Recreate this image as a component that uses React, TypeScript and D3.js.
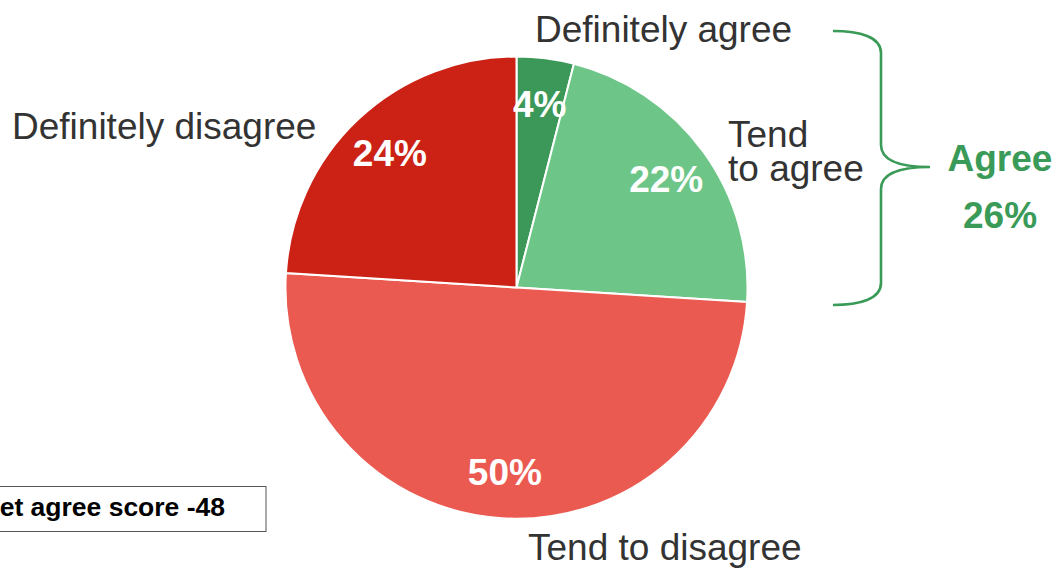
import React from "react";
import * as d3 from "d3";

const categories = ["Definitely agree", "Tend to agree", "Tend to disagree", "Definitely disagree"];
const values = [4, 22, 50, 24];
const colors = ["#3b9858", "#6dc688", "#eb5a50", "#cb2215"];
const agreeTotal = 26;
const netScore = -48;

const W = 1058, H = 568;
const cx = 516.5, cy = 287.5, R = 231;

export default function App() {
  const pie = d3.pie<number>().sort(null).value((d) => d)(values);
  const arc = d3.arc<d3.PieArcDatum<number>>().innerRadius(0).outerRadius(R);
  const labelArc = d3.arc<d3.PieArcDatum<number>>().innerRadius(185).outerRadius(185);
  const textFont = "'Liberation Sans', Arial, sans-serif";
  const green = "#3a9a58";
  const bx = 881, top = 31, bot = 305, mid = 167, tipX = 930, c = 22;
  const brace = `M833,${top} C860,${top} ${bx},${top + 6} ${bx},${top + c} L${bx},${mid - c} C${bx},${mid - 6} ${bx + 20},${mid} ${tipX},${mid} C${bx + 20},${mid} ${bx},${mid + 6} ${bx},${mid + c} L${bx},${bot - c} C${bx},${bot - 6} 860,${bot} 833,${bot}`;
  return (
    <svg width={W} height={H} style={{ position: "absolute", left: 0, top: 0, fontFamily: textFont }}>
      <rect width={W} height={H} fill="#fff" />
      <g transform={`translate(${cx},${cy})`}>
        {pie.map((p, i) => (
          <path key={i} d={arc(p) || ""} fill={colors[i]} stroke="#fff" strokeWidth={2} />
        ))}
        {pie.map((p, i) => {
          const [x, y] = labelArc.centroid(p);
          return (
            <text key={"l" + i} x={x} y={y} dy="0.35em" textAnchor="middle" fill="#fff" fontWeight="bold" fontSize={37}>
              {values[i]}%
            </text>
          );
        })}
      </g>
      <g fill="#333" fontSize={37}>
        <text x={535} y={42}>{categories[0]}</text>
        <text x={728} y={147}>Tend</text>
        <text x={728} y={181}>to agree</text>
        <text x={528} y={560}>{categories[2]}</text>
        <text x={12} y={139}>{categories[3]}</text>
      </g>
      <path d={brace} fill="none" stroke={green} strokeWidth={2.6} />
      <g fill={green} fontWeight="bold" fontSize={37} textAnchor="middle">
        <text x={1000} y={171}>Agree</text>
        <text x={1000} y={228}>{agreeTotal}%</text>
      </g>
      <rect x={-40} y={486.5} width={306} height={45} fill="#fff" stroke="#555" strokeWidth={1} />
      <text x={-19.5} y={516} fontSize={26.5} fontWeight="bold" fill="#000">Net agree score {netScore}</text>
    </svg>
  );
}
